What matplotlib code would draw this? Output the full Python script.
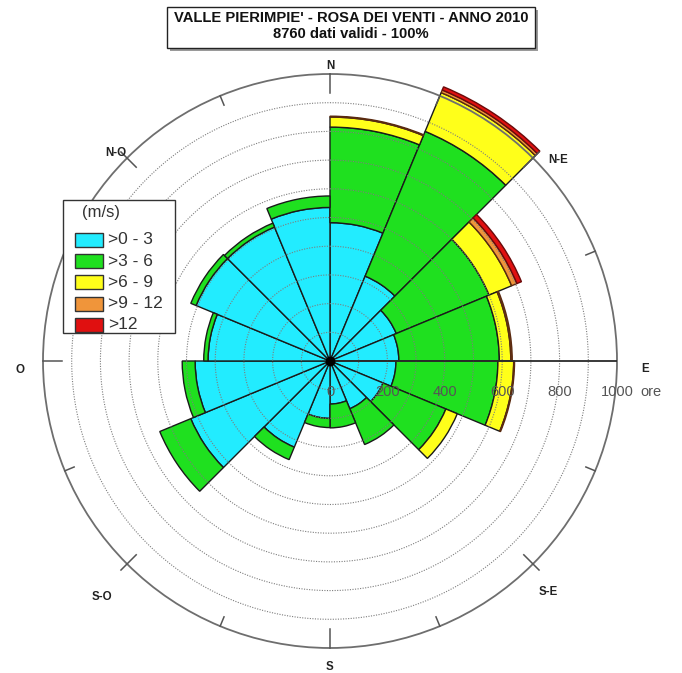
import numpy as np
import matplotlib
matplotlib.use("Agg")
import matplotlib.pyplot as plt
from matplotlib.patches import Rectangle

plt.rcParams['font.family'] = ['Liberation Sans', 'DejaVu Sans']

# ore per settore (16 settori da 22.5 gradi, partendo da N in senso orario)
sectors = ["N", "NNE", "NE", "ENE", "E", "ESE", "SE", "SSE",
           "S", "SSO", "SO", "OSO", "O", "ONO", "NO", "NNO"]
v_0_3 = [482, 320, 250, 240, 230, 200, 180, 150, 200, 325, 525, 470, 425, 505, 505, 535]
v_3_6 = [333, 546, 350, 350, 355, 237, 135, 83, 32, 47, 117, 45, 15, 20, 15, 40]
v_6_9 = [35, 146, 85, 40, 55, 43, 0, 0, 0, 0, 0, 0, 0, 0, 0, 0]
v_9_12 = [3, 10, 20, 5, 3, 0, 0, 0, 0, 0, 0, 0, 0, 0, 0, 0]
v_12 = [0, 12, 17, 0, 0, 0, 0, 0, 0, 0, 0, 0, 0, 0, 0, 0]
classes = [">0 - 3", ">3 - 6", ">6 - 9", ">9 - 12", ">12"]
r_ticks = [0, 200, 400, 600, 800, 1000]
compass = ["N", "N-E", "E", "S-E", "S", "S-O", "O", "N-O"]

colors = ["#22ecff", "#1fe01f", "#ffff1a", "#f0953a", "#e01010"]
edge_cols = ["#1a1a1a", "#1a1a1a", "#1a1a1a", "#5a2a10", "#6a0a0a"]

W, H = 682, 673
cx, cy, R = 330, 361, 287
fig = plt.figure(figsize=(W / 100, H / 100), dpi=100)
ax = fig.add_axes([(cx - R) / W, (H - cy - R) / H, 2 * R / W, 2 * R / H],
                  projection='polar')
ax.set_theta_zero_location('N')
ax.set_theta_direction(-1)
ax.set_ylim(0, 1000)
ax.set_xticks([])
ax.set_yticks([])
ax.grid(False)
ax.spines['polar'].set_color('#6e6e6e')
ax.spines['polar'].set_linewidth(1.3)

theta = np.deg2rad(np.arange(16) * 22.5 + 11.25)
width = np.deg2rad(22.5)
bottom = np.zeros(16)
for vals, col, ec in zip([v_0_3, v_3_6, v_6_9, v_9_12, v_12], colors, edge_cols):
    vals = np.array(vals, dtype=float)
    m = vals > 0
    ax.bar(theta[m], vals[m], width=width, bottom=bottom[m], color=col,
           edgecolor=ec, linewidth=1.0, clip_on=False, zorder=2)
    bottom += vals

# cerchi tratteggiati
tt = np.linspace(0, 2 * np.pi, 500)
for r in range(100, 1000, 100):
    ax.plot(tt, np.full_like(tt, r), linestyle=(0, (1, 1.3)), color='#7d7d7d',
            linewidth=0.8, zorder=3)

# asse E e punto centrale
ax.plot([np.pi / 2, np.pi / 2], [0, 1000], color='#2a2a2a', linewidth=1.3, zorder=4)
ax.plot([0], [0], 'o', color='black', markersize=6, zorder=5)

# tacche sul cerchio esterno
for k in range(16):
    a = np.deg2rad(k * 22.5)
    if k in (0, 8, 12):
        r0, r1 = 935, 1000
    elif k % 2 == 1:
        r0, r1 = 965, 1000
    elif k == 4:
        continue
    else:
        r0, r1 = 955, 1030
    ax.plot([a, a], [r0, r1], color='#555555', linewidth=1.1, clip_on=False, zorder=4)

# etichette radiali
for r in r_ticks:
    ax.annotate(str(r), xy=(np.pi / 2, r), xytext=(0, -31), textcoords='offset pixels',
                ha='center', va='center', fontsize=10.5, color='#555555', zorder=6)
ax.annotate("ore", xy=(np.pi / 2, 1000), xytext=(34, -31), textcoords='offset pixels',
            ha='center', va='center', fontsize=10.5, color='#555555', zorder=6)

# livello sovrapposto in pixel per testi e riquadri
ov = fig.add_axes([0, 0, 1, 1])
ov.set_xlim(0, W)
ov.set_ylim(H, 0)
ov.axis('off')

# direzioni
comp_pos = [(330, 66), (558, 160), (645, 369), (548, 592),
            (330, 667), (102, 597), (20, 370), (116, 153)]
for lab, (x, y) in zip(compass, comp_pos):
    ov.text(x, y, lab, ha='center', va='center', fontsize=8.3,
            fontweight='bold', color='#222222')

# titolo
ov.add_patch(Rectangle((170, 10), 368, 41, facecolor='#9a9a9a', edgecolor='none'))
ov.add_patch(Rectangle((167, 7), 368, 41, facecolor='white', edgecolor='#222222',
                       linewidth=1.0))
ov.text(351, 18, "VALLE PIERIMPIE' - ROSA DEI VENTI - ANNO 2010", ha='center',
        va='center', fontsize=10.6, fontweight='bold', color='#111111')
ov.text(351, 34, "8760 dati validi - 100%", ha='center', va='center',
        fontsize=10.6, fontweight='bold', color='#111111')

# legenda
ov.add_patch(Rectangle((63, 200), 112, 133, facecolor='white', edgecolor='#333333',
                       linewidth=1.0, zorder=3))
ov.text(101, 213, "(m/s)", ha='center', va='center', fontsize=12, color='#333333', zorder=4)
for i, (lab, col) in enumerate(zip(classes, colors)):
    y = 240 + i * 21.2
    ov.add_patch(Rectangle((75, y - 7), 28, 14, facecolor=col, edgecolor='#333333',
                           linewidth=1.0, zorder=4))
    ov.text(108, y, lab, ha='left', va='center', fontsize=12.5, color='#333333', zorder=4)

fig.savefig("out.png", dpi=100)
